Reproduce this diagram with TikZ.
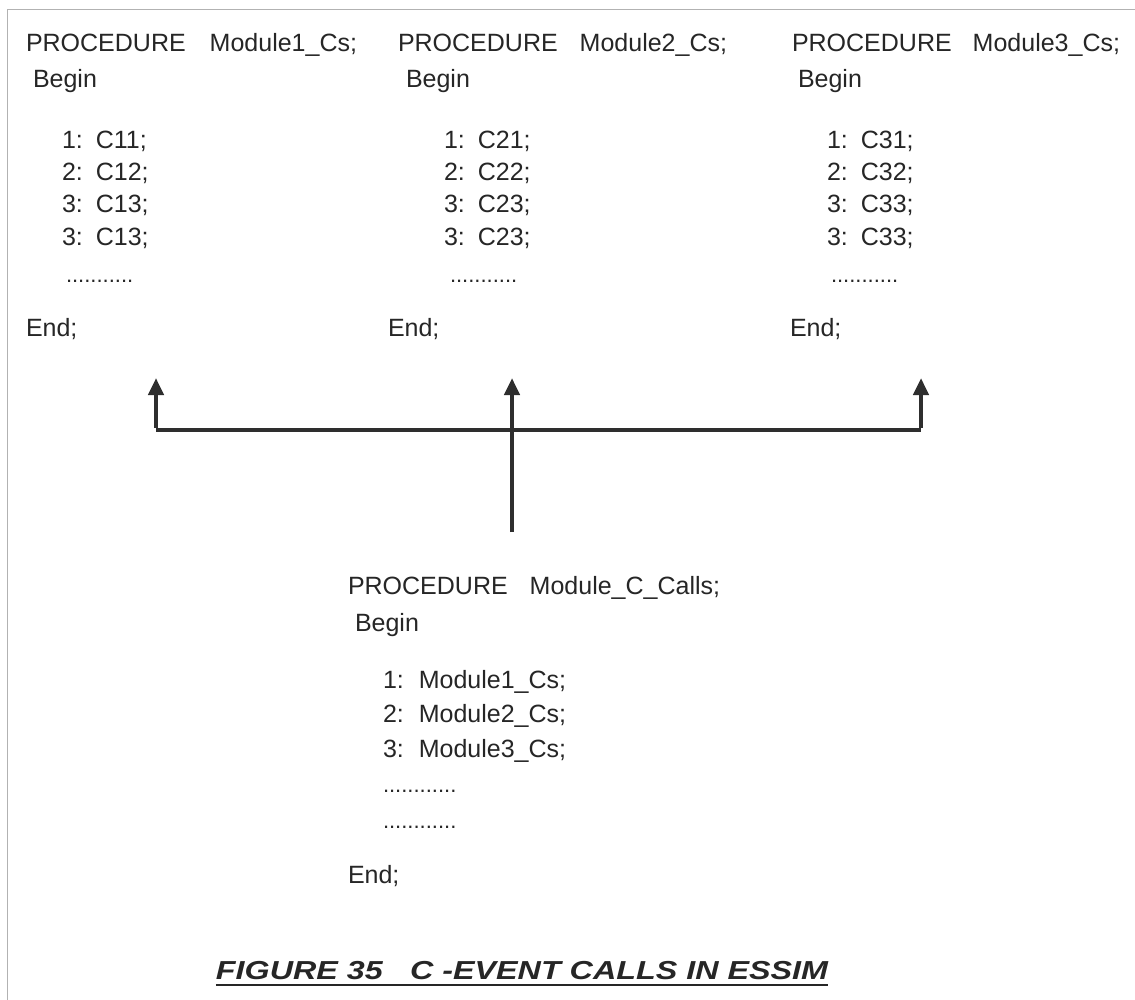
\documentclass[tikz,border=0pt]{standalone}
\usepackage{fontspec}
\setmainfont{Liberation Sans}
\usetikzlibrary{arrows.meta}
\begin{document}
\begin{tikzpicture}[x=1pt,y=-1pt,
  txt/.style={anchor=base west,inner sep=0pt,outer sep=0pt,text=black!85,font=\fontsize{25}{29}\selectfont},
  dots/.style={txt,font=\fontsize{22}{26}\selectfont},
  frame/.style={draw=black!30,line width=1pt},
  conn/.style={draw=black!82,line width=4.5pt},
  callarrow/.style={conn,-{Triangle[width=15pt,length=17pt]}},
  caption/.style={anchor=base,inner sep=0pt,text=black!85,font=\fontsize{26}{29}\selectfont\bfseries\itshape}
]
\useasboundingbox (0,0) rectangle (1135,1000);
\fill[white] (0,0) rectangle (1135,1000);
% page frame
\draw[frame] (7,1000) -- (7,10) -- (1135,10);

% Module 1
\node[txt] (h1) at (26,52) {PROCEDURE\hspace{24pt}Module1\_Cs;};
\node[txt] (b1) at (33,88) {Begin};
\node[txt] (a11) at (62,149) {1:\hspace{13pt}C11;};
\node[txt] (a12) at (62,181) {2:\hspace{13pt}C12;};
\node[txt] (a13) at (62,213) {3:\hspace{13pt}C13;};
\node[txt] (a14) at (62,246) {3:\hspace{13pt}C13;};
\node[dots] (d1) at (66,283) {...........};
\node[txt] (e1) at (26,336) {End;};

% Module 2
\node[txt] (h2) at (398,52) {PROCEDURE\hspace{22pt}Module2\_Cs;};
\node[txt] (b2) at (406,88) {Begin};
\node[txt] (a21) at (444,149) {1:\hspace{13pt}C21;};
\node[txt] (a22) at (444,181) {2:\hspace{13pt}C22;};
\node[txt] (a23) at (444,213) {3:\hspace{13pt}C23;};
\node[txt] (a24) at (444,246) {3:\hspace{13pt}C23;};
\node[dots] (d2) at (450,283) {...........};
\node[txt] (e2) at (388,336) {End;};

% Module 3
\node[txt] (h3) at (792,52) {PROCEDURE\hspace{21pt}Module3\_Cs;};
\node[txt] (b3) at (798,88) {Begin};
\node[txt] (a31) at (827,149) {1:\hspace{13pt}C31;};
\node[txt] (a32) at (827,181) {2:\hspace{13pt}C32;};
\node[txt] (a33) at (827,213) {3:\hspace{13pt}C33;};
\node[txt] (a34) at (827,246) {3:\hspace{13pt}C33;};
\node[dots] (d3) at (831,283) {...........};
\node[txt] (e3) at (790,336) {End;};

% Module_C_Calls
\node[txt] (hc) at (348,594) {PROCEDURE\hspace{22pt}Module\_C\_Calls;};
\node[txt] (bc) at (355,631) {Begin};
\node[txt] (c1) at (383,688) {1:\hspace{15pt}Module1\_Cs;};
\node[txt] (c2) at (383,722) {2:\hspace{15pt}Module2\_Cs;};
\node[txt] (c3) at (383,757) {3:\hspace{15pt}Module3\_Cs;};
\node[dots] (dc1) at (383,792) {............};
\node[dots] (dc2) at (383,828) {............};
\node[txt] (ec) at (348,883) {End;};

% connectors
\coordinate (src) at (512,532);
\coordinate (junc) at (512,430);
\coordinate (jl) at (156,430);
\coordinate (jr) at (921,430);
\coordinate (t1) at (156,378);
\coordinate (t2) at (512,378);
\coordinate (t3) at (921,378);
\draw[conn] (jl) -- (jr);
\draw[callarrow] (src) -- (t2);
\draw[callarrow] ([yshift=2.25pt]jl) -- (t1);
\draw[callarrow] ([yshift=2.25pt]jr) -- (t3);

% caption
\node[caption] (cap) at (522,979) {\resizebox{612pt}{\height}{FIGURE 35\hspace{22pt}C -EVENT CALLS IN ESSIM}};
\draw[black!85,line width=1.5pt] ([yshift=-6pt]cap.base west) -- ([yshift=-6pt]cap.base east);
\end{tikzpicture}
\end{document}
